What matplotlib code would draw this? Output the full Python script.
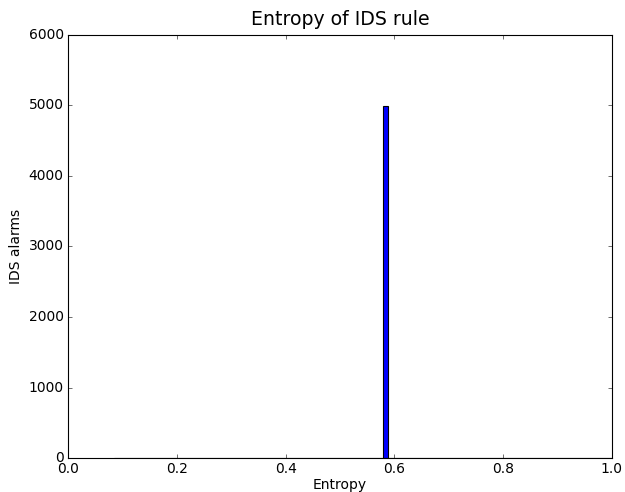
import matplotlib
matplotlib.use('Agg')
import matplotlib.pyplot as plt

# entropy values of the alarms and how many alarms had each
entropy_values = [0.085, 0.583, 1.0]
alarm_counts = [1, 4999, 1]
n_bins = 100

plt.style.use('classic')
fig = plt.figure(figsize=(625 / 80, 492 / 80), dpi=80)
ax = fig.add_axes([0.109, 0.069, 0.870, 0.860])

ax.hist(entropy_values, bins=n_bins, weights=alarm_counts,
        color='blue', edgecolor='black', linewidth=1)
ax.set_xlim(0.0, 1.0)
ax.set_ylim(0, 6000)
ax.set_title('Entropy of IDS rule', fontsize=17, pad=9)
ax.set_xlabel('Entropy', fontsize=12.5, labelpad=1)
ax.set_ylabel('IDS alarms', fontsize=12.5)
ax.tick_params(labelsize=12.5)

fig.savefig('out.png', dpi=80)
